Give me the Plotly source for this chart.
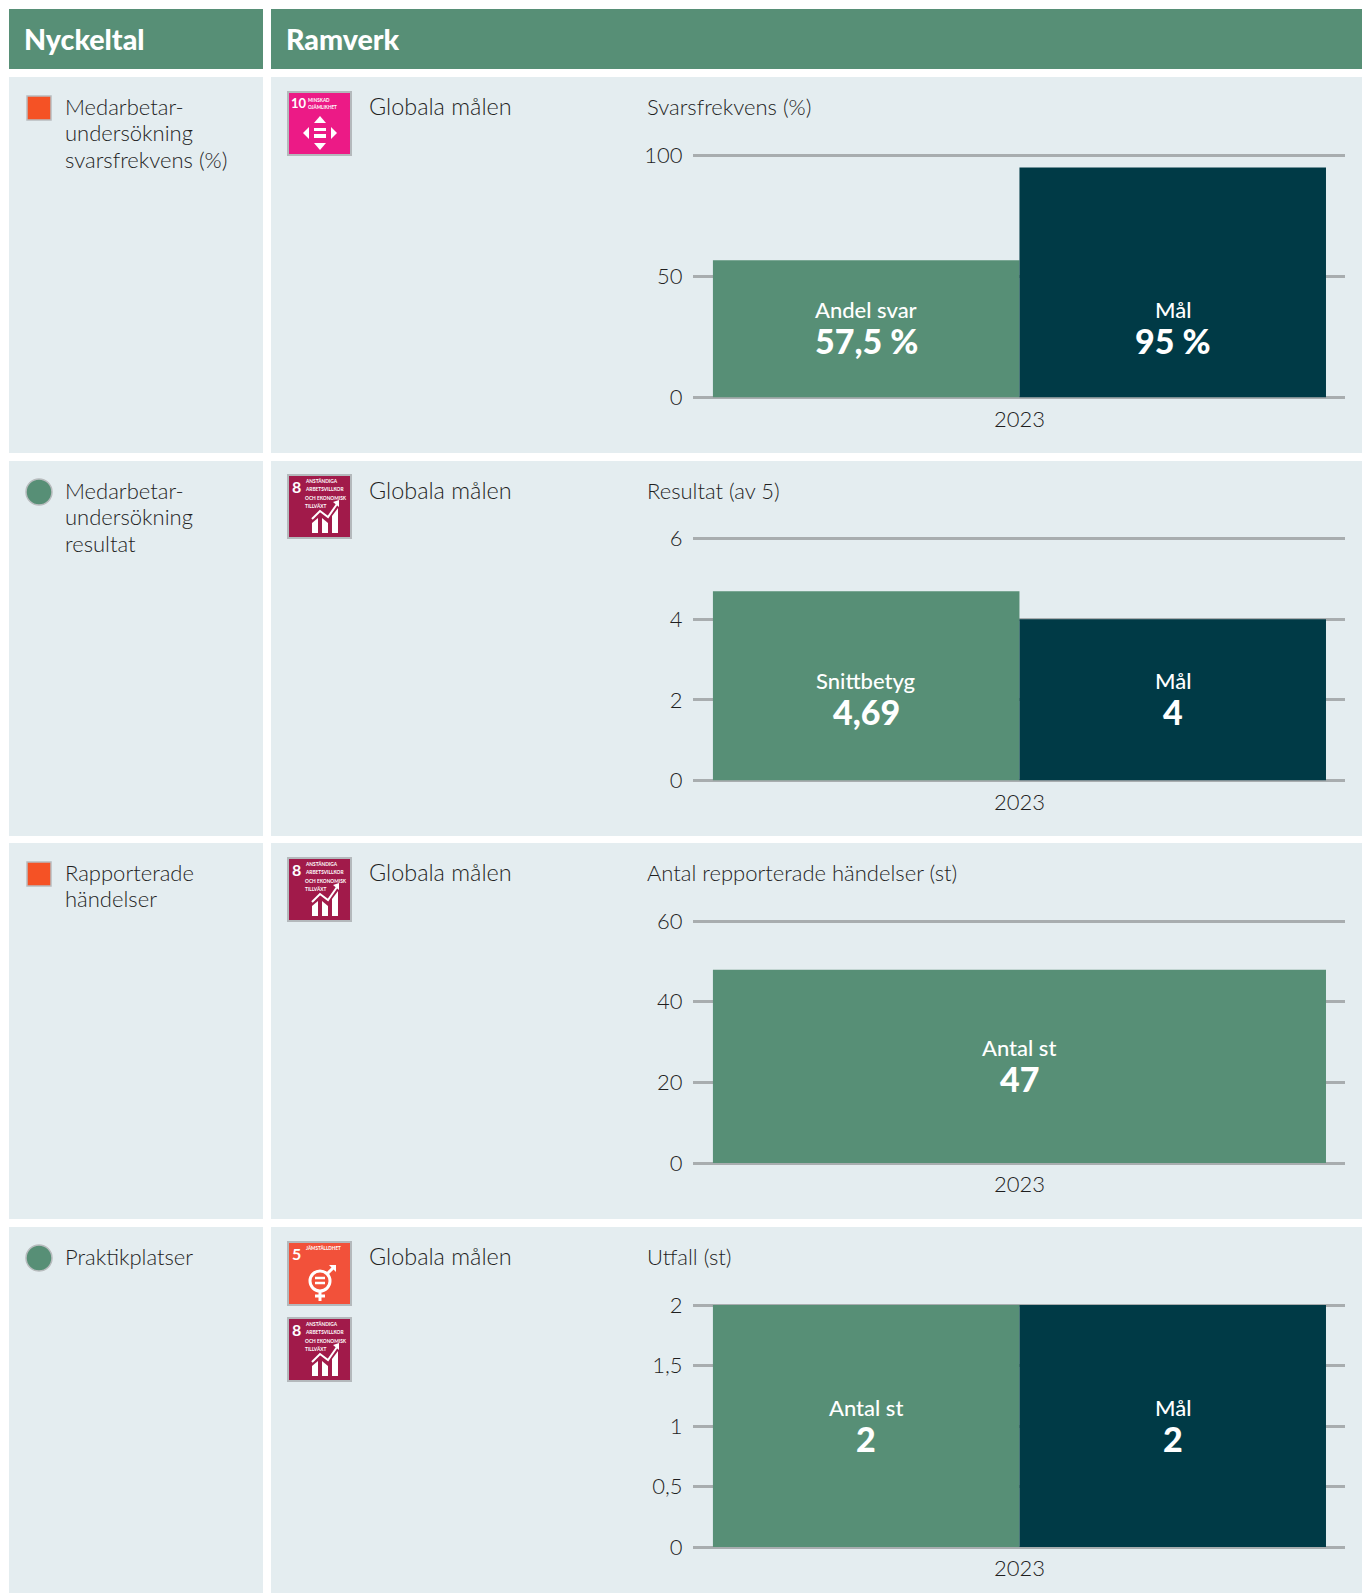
import plotly.graph_objects as go

W, H = 1362, 1593

# ---- data ----
headers = ["Nyckeltal", "Ramverk"]
row_labels = [["Medarbetar-", "undersökning", "svarsfrekvens (%)"],
              ["Medarbetar-", "undersökning", "resultat"],
              ["Rapporterade", "händelser"],
              ["Praktikplatser"]]
row_status = ["square", "circle", "square", "circle"]
framework = "Globala målen"
chart_titles = ["Svarsfrekvens (%)", "Resultat (av 5)", "Antal repporterade händelser (st)", "Utfall (st)"]
year = "2023"
bar1_names = ["Andel svar", "Snittbetyg", "Antal st", "Antal st"]
bar1_values = [56.7, 4.69, 47.9, 2]
bar1_labels = ["57,5 %", "4,69", "47", "2"]
bar2_names = ["Mål", "Mål", None, "Mål"]
bar2_values = [95, 4, None, 2]
bar2_labels = ["95 %", "4", None, "2"]
y_tickvals = [[0, 50, 100], [0, 2, 4, 6], [0, 20, 40, 60], [0, 0.5, 1, 1.5, 2]]
y_ticktext = [["0", "50", "100"], ["0", "2", "4", "6"], ["0", "20", "40", "60"], ["0", "0,5", "1", "1,5", "2"]]

# ---- style & layout ----
GREEN, DARK, PANEL, GRID = "#578f76", "#003a46", "#e4edf0", "#a8adaf"
ORANGE, INK = "#f55225", "#1f1f1f"
FONT = "Lato"
row_top = [77, 461, 843, 1227]
row_bot = [453, 836, 1219, 1593]
plot_top = [155.5, 538.5, 921, 1305]
plot_bot = [397.5, 780.5, 1163, 1547]
PX0, PX1 = 693, 1345
HEAD = 3  # extra px above the top tick, so that its grid line is not clipped


def X(p): return p / W
def Y(p): return 1 - p / H


shapes, annos = [], []


def rect(x0, y0, x1, y1, fill, line=None, lw=0, kind="rect"):
    shapes.append(dict(type=kind, xref="paper", yref="paper", x0=X(x0), x1=X(x1), y0=Y(y1), y1=Y(y0),
                       fillcolor=fill, line=dict(color=line or fill, width=lw), layer="below"))


def poly(points, fill=None, stroke=None, lw=0, close=True):
    d = "M " + " L ".join(f"{X(a):.5f},{Y(b):.5f}" for a, b in points) + (" Z" if close else "")
    shapes.append(dict(type="path", xref="paper", yref="paper", path=d, fillcolor=fill or "rgba(0,0,0,0)",
                       line=dict(color=stroke or "rgba(0,0,0,0)", width=lw), layer="above"))


def text(x, y, s, size=22, color=INK, anchor="left", weight=None):
    f = dict(size=size, color=color, family=FONT)
    if weight:
        f["weight"] = weight
    annos.append(dict(xref="paper", yref="paper", x=X(x), y=Y(y), text=s, showarrow=False, xanchor=anchor,
                      yanchor="middle", font=f, borderpad=0, borderwidth=0))


def icon_frame(y, fill):
    rect(288, y + 1, 351, y + 64, fill, "#b4b9bc", 2)


def icon_growth(y):
    icon_frame(y, "#a11a4a")
    text(292, y + 12.5, "8", 16, "white", weight=700)
    for i, t in enumerate(["ANSTÄNDIGA", "ARBETSVILLKOR", "OCH EKONOMISK", "TILLVÄXT"]):
        text(305, y + 7 + i * 8.4, t, 4.8, "white", weight=700)
    poly([(312, y + 59), (312, y + 49), (318, y + 44), (318, y + 59)], "white")
    poly([(322, y + 59), (322, y + 44), (328, y + 49), (328, y + 59)], "white")
    poly([(332, y + 59), (332, y + 42), (338, y + 34), (338, y + 59)], "white")
    poly([(312, y + 45), (320, y + 37), (328, y + 43), (337, y + 30)], None, "white", 2, close=False)
    poly([(333, y + 28), (339, y + 26), (339, y + 33)], "white")


def icon_equality(y):
    icon_frame(y, "#ec1a86")
    text(291, y + 12, "10", 13, "white", weight=700)
    text(308, y + 9, "MINSKAD", 4.6, "white", weight=700)
    text(308, y + 16, "OJÄMLIKHET", 4.6, "white", weight=700)
    poly([(320, y + 25), (326, y + 32), (314, y + 32)], "white")
    poly([(320, y + 59), (326, y + 52), (314, y + 52)], "white")
    poly([(303, y + 42), (309, y + 36), (309, y + 48)], "white")
    poly([(337, y + 42), (331, y + 36), (331, y + 48)], "white")
    poly([(314, y + 37), (326, y + 37), (326, y + 40), (314, y + 40)], "white")
    poly([(314, y + 43), (326, y + 43), (326, y + 47), (314, y + 47)], "white")


def icon_gender(y):
    icon_frame(y, "#f2513a")
    text(292, y + 12, "5", 16, "white", weight=700)
    text(306, y + 7, "JÄMSTÄLLDHET", 4.6, "white", weight=700)
    shapes.append(dict(type="circle", xref="paper", yref="paper", x0=X(310), x1=X(330), y0=Y(y + 50), y1=Y(y + 30),
                       fillcolor="rgba(0,0,0,0)", line=dict(color="white", width=3), layer="above"))
    poly([(327, y + 33), (334, y + 26)], None, "white", 3, close=False)
    poly([(329, y + 24), (336, y + 24), (336, y + 31)], "white")
    poly([(320, y + 50), (320, y + 60)], None, "white", 3, close=False)
    poly([(315, y + 55), (325, y + 55)], None, "white", 3, close=False)
    poly([(315, y + 37), (325, y + 37)], None, "white", 2.5, close=False)
    poly([(315, y + 42), (325, y + 42)], None, "white", 2.5, close=False)


# panels and headers
rect(9, 9, 263, 69, GREEN)
rect(271, 9, 1362, 69, GREEN)
text(24, 39, headers[0], 28.6, "white", weight=900)
text(286, 39, headers[1], 28.6, "white", weight=900)

fig = go.Figure()
layout_axes = {}
for i in range(4):
    top, bot = row_top[i], row_bot[i]
    rect(9, top, 263, bot, PANEL)
    rect(271, top, 1362, bot, PANEL)
    cy = top + 31
    if row_status[i] == "square":
        rect(27, cy - 12, 51, cy + 12, ORANGE, "#b8bcbe", 1.5)
    else:
        rect(26, cy - 13, 52, cy + 13, GREEN, "#b8bcbe", 1.5, kind="circle")
    ty = cy - 2
    for j, line in enumerate(row_labels[i]):
        text(65, ty + j * 26.7, line, weight=300)
    text(369, ty, framework, 23.4, weight=300)
    text(647, ty, chart_titles[i], weight=300)

    sfx = "" if i == 0 else str(i + 1)
    xa, ya = "x" + sfx, "y" + sfx
    if bar2_values[i] is None:
        fig.add_bar(x=[0.5], y=[bar1_values[i]], width=[2], marker=dict(color=GREEN, line_width=0),
                    name=bar1_names[i], xaxis=xa, yaxis=ya, showlegend=False)
        label_x = [0.5]
    else:
        fig.add_bar(x=[0], y=[bar1_values[i]], width=[1], marker=dict(color=GREEN, line_width=0),
                    name=bar1_names[i], xaxis=xa, yaxis=ya, showlegend=False)
        fig.add_bar(x=[1], y=[bar2_values[i]], width=[1], marker=dict(color=DARK, line_width=0),
                    name=bar2_names[i], xaxis=xa, yaxis=ya, showlegend=False)
        label_x = [0, 1]
    mid = min(v for v in (bar1_values[i], bar2_values[i]) if v is not None) / 2
    names = [bar1_names[i], bar2_names[i]]
    vals = [bar1_labels[i], bar2_labels[i]]
    for k, lx in enumerate(label_x):
        annos.append(dict(xref=xa, yref=ya, x=lx, y=mid, text=names[k], showarrow=False, yshift=19,
                          font=dict(size=22, color="white", family=FONT, weight=500), yanchor="middle"))
        annos.append(dict(xref=xa, yref=ya, x=lx, y=mid, text=vals[k], showarrow=False, yshift=-12,
                          font=dict(size=34, color="white", family=FONT, weight=900), yanchor="middle"))
    ymax = max(y_tickvals[i])
    span = plot_bot[i] - plot_top[i]
    layout_axes["xaxis" + sfx] = dict(domain=[X(PX0), X(PX1)], range=[-0.565, 1.562], anchor=ya, tickvals=[0.5],
                                      ticktext=[year], showgrid=False, zeroline=False, showline=False,
                                      ticks="outside", ticklen=2, tickcolor="rgba(0,0,0,0)", fixedrange=True,
                                      tickfont=dict(size=22, color=INK, family=FONT, weight=300))
    layout_axes["yaxis" + sfx] = dict(domain=[Y(plot_bot[i]), Y(plot_top[i] - HEAD)],
                                      range=[0, ymax * (1 + HEAD / span)], anchor=xa,
                                      tickvals=y_tickvals[i], ticktext=y_ticktext[i],
                                      showgrid=True, gridcolor=GRID, gridwidth=2.5,
                                      zeroline=True, zerolinecolor=GRID, zerolinewidth=2.5, showline=False,
                                      ticks="outside", ticklen=5, tickcolor="rgba(0,0,0,0)", fixedrange=True,
                                      tickfont=dict(size=22, color=INK, family=FONT, weight=300))

icon_equality(91)
icon_growth(474)
icon_growth(857)
icon_gender(1241)
icon_growth(1317)

fig.update_layout(width=W, height=H, margin=dict(l=0, r=0, t=0, b=0, pad=0, autoexpand=False), autosize=False,
                  paper_bgcolor="white", plot_bgcolor="rgba(0,0,0,0)", barmode="overlay",
                  shapes=shapes, annotations=annos, font=dict(family=FONT), **layout_axes)
fig.write_html("out.html", config=dict(displayModeBar=False),
               post_script="document.body.style.margin='0';document.body.style.overflow='hidden';")
